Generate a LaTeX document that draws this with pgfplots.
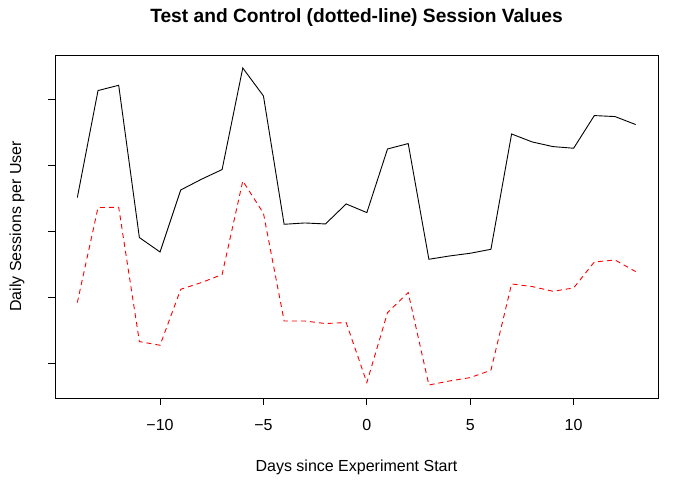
\documentclass[border=0pt]{standalone}
\usepackage{fontspec}
\setmainfont{Liberation Sans}
\usepackage{pgfplots}
\pgfplotsset{compat=1.18}
\begin{document}
\begin{tikzpicture}[x=1bp,y=1bp]
\path[use as bounding box] (0,0) rectangle (679,496);
\begin{axis}[
  at={(55bp,98bp)}, anchor=south west,
  scale only axis, width=603bp, height=343bp,
  xmin=-15.08, xmax=14.08, ymin=0.474, ymax=5.671,
  xtick={-10,-5,0,5,10},
  xticklabels={−10,−5,0,5,10},
  ytick={1,2,3,4,5}, yticklabels={},
  tick align=outside, major tick length=7bp,
  xtick pos=bottom, ytick pos=left,
  tick style={black, line width=0.8bp},
  axis line style={line width=0.8bp},
  ticklabel style={font=\fontsize{16bp}{18bp}\selectfont},
  xticklabel style={yshift=-11bp},
  clip=false,
]
\addplot[black, line width=0.9bp] coordinates {
(-14,3.511) (-13,5.132) (-12,5.212) (-11,2.905) (-10,2.686) (-9,3.626) (-8,3.788) (-7,3.935)
(-6,5.474) (-5,5.050) (-4,3.106) (-3,3.126) (-2,3.111) (-1,3.414) (0,3.283) (1,4.247)
(2,4.329) (3,2.576) (4,2.626) (5,2.667) (6,2.727) (7,4.474) (8,4.353) (9,4.283)
(10,4.258) (11,4.753) (12,4.738) (13,4.617)};
\addplot[red, line width=0.9bp, dash pattern=on 5bp off 4bp] coordinates {
(-14,1.920) (-13,3.359) (-12,3.364) (-11,1.329) (-10,1.273) (-9,2.121) (-8,2.223) (-7,2.344)
(-6,3.762) (-5,3.273) (-4,1.641) (-3,1.641) (-2,1.602) (-1,1.617) (0,0.708) (1,1.768)
(2,2.071) (3,0.671) (4,0.732) (5,0.783) (6,0.894) (7,2.202) (8,2.162) (9,2.091)
(10,2.141) (11,2.535) (12,2.565) (13,2.389)};
\end{axis}
\node[font=\bfseries\fontsize{19.2bp}{22bp}\selectfont] at (356.5,478.5) {Test and Control (dotted-line) Session Values};
\node[font=\fontsize{16bp}{18bp}\selectfont] at (356.5,29) {Days since Experiment Start};
\node[font=\fontsize{16bp}{18bp}\selectfont, rotate=90] at (17,269.5) {Daily Sessions per User};
\end{tikzpicture}
\end{document}
